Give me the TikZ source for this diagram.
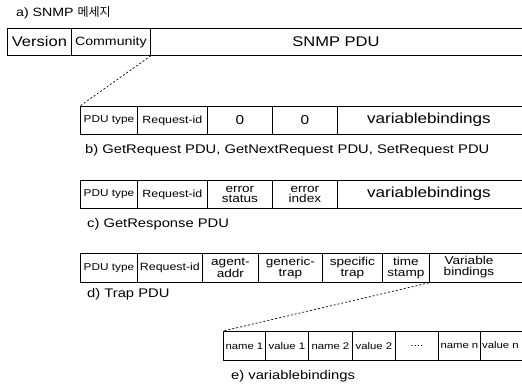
\documentclass[tikz,border=0pt]{standalone}
\usepackage{fontspec}
\setmainfont[FakeStretch=1.18]{Liberation Sans}
\newfontfamily\krfont[FakeStretch=1.0]{Noto Sans CJK KR}
\begin{document}
\begin{tikzpicture}[x=1pt,y=-1pt,
  cell/.style={draw, line width=0.8pt, inner sep=0pt, anchor=north west, align=center,
               font=\fontsize{10}{11}\selectfont},
  big/.style={font=\fontsize{14}{16}\selectfont},
  zero/.style={font=\fontsize{13}{15}\selectfont},
  two/.style={font=\fontsize{11.5}{10.5}\selectfont},
  small/.style={font=\fontsize{9.6}{11}\selectfont},
  txt/.style={inner sep=0pt, align=center},
  captxt/.style={anchor=west, inner sep=0pt, font=\fontsize{12.5}{14}\selectfont},
  link/.style={line width=0.7pt, dash pattern=on 2pt off 2pt}]
\useasboundingbox (0,0) rectangle (522,384);
\clip (0,0) rectangle (522,384);

% a) SNMP message
\node[captxt,font=\fontsize{12}{14}\selectfont] (capa) at (16,13) {a) SNMP \krfont 메세지};
\node[cell,big,minimum width=64pt,minimum height=27pt] (ver) at (7,28) {Version};
\node[cell,minimum width=79pt,minimum height=27pt,font=\fontsize{12}{13}\selectfont] (com) at (71,28) {Community};
\node[cell,minimum width=390pt,minimum height=27pt] (pdu) at (150,28) {};
\node[txt,big] (pdut) at (336,41.5) {SNMP PDU};

% b) GetRequest
\node[cell,minimum width=57pt,minimum height=28pt] (b1) at (80,106) {PDU type};
\node[cell,minimum width=70pt,minimum height=28pt,font=\fontsize{10.5}{11}\selectfont] (b2) at (137,106) {Request-id};
\node[cell,zero,minimum width=65pt,minimum height=28pt] (b3) at (207,106) {0};
\node[cell,zero,minimum width=65pt,minimum height=28pt] (b4) at (272,106) {0};
\node[cell,minimum width=203pt,minimum height=28pt] (b5) at (337,106) {};
\node[txt,font=\fontsize{14.5}{16}\selectfont] (b5t) at (429,120) {variablebindings};
\node[captxt] (capb) at (85,150) {b) GetRequest PDU, GetNextRequest PDU, SetRequest PDU};

% c) GetResponse
\node[cell,minimum width=57pt,minimum height=28pt] (c1) at (80,180) {PDU type};
\node[cell,minimum width=70pt,minimum height=28pt,font=\fontsize{10.5}{11}\selectfont] (c2) at (137,180) {Request-id};
\node[cell,two,minimum width=65pt,minimum height=28pt] (c3) at (207,180) {error\\status};
\node[cell,two,minimum width=65pt,minimum height=28pt] (c4) at (272,180) {error\\index};
\node[cell,minimum width=203pt,minimum height=28pt] (c5) at (337,180) {};
\node[txt,font=\fontsize{14.5}{16}\selectfont] (c5t) at (429,194) {variablebindings};
\node[captxt] (capc) at (87,224) {c) GetResponse PDU};

% d) Trap
\node[cell,minimum width=57pt,minimum height=29pt] (d1) at (80,253) {PDU type};
\node[cell,minimum width=65pt,minimum height=29pt,font=\fontsize{10.5}{11}\selectfont] (d2) at (137,253) {Request-id};
\node[cell,two,minimum width=56pt,minimum height=29pt] (d3) at (202,253) {agent-\\addr};
\node[cell,two,minimum width=64pt,minimum height=29pt] (d4) at (258,253) {generic-\\trap};
\node[cell,two,minimum width=60pt,minimum height=29pt] (d5) at (322,253) {specific\\trap};
\node[cell,two,minimum width=47pt,minimum height=29pt] (d6) at (382,253) {time\\stamp};
\node[cell,minimum width=111pt,minimum height=29pt] (d7) at (429,253) {};
\node[txt,two] (d7t) at (469,267) {Variable\\bindings};
\node[captxt] (capd) at (87,294) {d) Trap PDU};

% e) variablebindings
\node[cell,small,minimum width=42pt,minimum height=29pt] (e1) at (223,331) {name 1};
\node[cell,small,minimum width=43pt,minimum height=29pt] (e2) at (265,331) {value 1};
\node[cell,small,minimum width=44pt,minimum height=29pt] (e3) at (308,331) {name 2};
\node[cell,small,minimum width=43pt,minimum height=29pt] (e4) at (352,331) {value 2};
\node[cell,small,minimum width=43pt,minimum height=29pt] (e5) at (395,331) {....};
\node[cell,small,minimum width=42pt,minimum height=29pt] (e6) at (438,331) {name n};
\node[cell,minimum width=60pt,minimum height=29pt] (e7) at (480,331) {};
\node[txt,small,anchor=west] (e7t) at (482,345.5) {value n};
\node[captxt] (cape) at (231,376) {e) variablebindings};

% connectors
\draw[link] (com.south east) -- (b1.north west);
\draw[link] (d7.south west) -- (e1.north west);
\end{tikzpicture}
\end{document}
